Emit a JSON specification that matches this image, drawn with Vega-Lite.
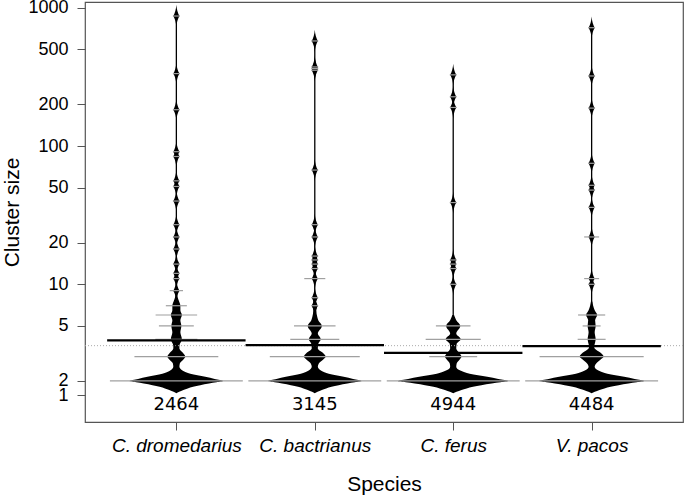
{
  "$schema": "https://vega.github.io/schema/vega-lite/v6.json",
  "width": 598,
  "height": 420,
  "autosize": {"type": "none"},
  "padding": {"left": 85, "top": 2, "right": 2, "bottom": 75},
  "background": "white",
  "config": {
    "view": {"stroke": "#555555", "strokeWidth": 1.2},
    "axis": {"grid": false, "domain": false, "tickColor": "#555555", "tickSize": 8, "labelColor": "#000000", "labelFont": "Liberation Sans", "labelFontSize": 18, "titleFont": "Liberation Sans", "titleFontSize": 21, "titleFontWeight": "normal", "titleColor": "#000000", "labelOverlap": false}
  },
  "datasets": {
    "bean": [
      {"species":"C. dromedarius","v":1.627,"w":0},{"species":"C. dromedarius","v":1.67,"w":0.020},{"species":"C. dromedarius","v":1.72,"w":0.051},{"species":"C. dromedarius","v":1.817,"w":0.121},{"species":"C. dromedarius","v":1.921,"w":0.236},{"species":"C. dromedarius","v":1.96,"w":0.290},{"species":"C. dromedarius","v":2.0,"w":0.337},{"species":"C. dromedarius","v":2.07,"w":0.277},{"species":"C. dromedarius","v":2.145,"w":0.209},{"species":"C. dromedarius","v":2.26,"w":0.101},{"species":"C. dromedarius","v":2.37,"w":0.047},{"species":"C. dromedarius","v":2.45,"w":0.029},{"species":"C. dromedarius","v":2.53,"w":0.022},{"species":"C. dromedarius","v":2.68,"w":0.025},{"species":"C. dromedarius","v":2.86,"w":0.051},{"species":"C. dromedarius","v":3.0,"w":0.065},{"species":"C. dromedarius","v":3.2,"w":0.047},{"species":"C. dromedarius","v":3.44,"w":0.022},{"species":"C. dromedarius","v":3.6,"w":0.022},{"species":"C. dromedarius","v":4.0,"w":0.040},{"species":"C. dromedarius","v":4.5,"w":0.029},{"species":"C. dromedarius","v":5.0,"w":0.036},{"species":"C. dromedarius","v":5.5,"w":0.029},{"species":"C. dromedarius","v":6.0,"w":0.040},{"species":"C. dromedarius","v":6.5,"w":0.029},{"species":"C. dromedarius","v":7.0,"w":0.029},{"species":"C. dromedarius","v":7.6,"w":0.018},{"species":"C. dromedarius","v":8.1,"w":0.009},{"species":"C. dromedarius","v":8.6,"w":0.004},
      {"species":"C. bactrianus","v":1.627,"w":0},{"species":"C. bactrianus","v":1.67,"w":0.020},{"species":"C. bactrianus","v":1.72,"w":0.051},{"species":"C. bactrianus","v":1.817,"w":0.121},{"species":"C. bactrianus","v":1.921,"w":0.236},{"species":"C. bactrianus","v":1.96,"w":0.290},{"species":"C. bactrianus","v":2.0,"w":0.337},{"species":"C. bactrianus","v":2.07,"w":0.277},{"species":"C. bactrianus","v":2.145,"w":0.209},{"species":"C. bactrianus","v":2.26,"w":0.101},{"species":"C. bactrianus","v":2.37,"w":0.047},{"species":"C. bactrianus","v":2.45,"w":0.029},{"species":"C. bactrianus","v":2.53,"w":0.022},{"species":"C. bactrianus","v":2.68,"w":0.029},{"species":"C. bactrianus","v":2.86,"w":0.061},{"species":"C. bactrianus","v":3.0,"w":0.079},{"species":"C. bactrianus","v":3.2,"w":0.058},{"species":"C. bactrianus","v":3.44,"w":0.022},{"species":"C. bactrianus","v":3.7,"w":0.025},{"species":"C. bactrianus","v":4.0,"w":0.043},{"species":"C. bactrianus","v":4.4,"w":0.022},{"species":"C. bactrianus","v":5.0,"w":0.051},{"species":"C. bactrianus","v":5.5,"w":0.025},{"species":"C. bactrianus","v":5.8,"w":0.018},{"species":"C. bactrianus","v":6.5,"w":0.011},{"species":"C. bactrianus","v":7.0,"w":0.018},{"species":"C. bactrianus","v":7.5,"w":0.009},{"species":"C. bactrianus","v":8.0,"w":0.014},{"species":"C. bactrianus","v":8.5,"w":0.005},
      {"species":"C. ferus","v":1.627,"w":0},{"species":"C. ferus","v":1.67,"w":0.024},{"species":"C. ferus","v":1.72,"w":0.060},{"species":"C. ferus","v":1.817,"w":0.143},{"species":"C. ferus","v":1.921,"w":0.278},{"species":"C. ferus","v":1.96,"w":0.342},{"species":"C. ferus","v":2.0,"w":0.397},{"species":"C. ferus","v":2.07,"w":0.326},{"species":"C. ferus","v":2.145,"w":0.246},{"species":"C. ferus","v":2.26,"w":0.119},{"species":"C. ferus","v":2.37,"w":0.056},{"species":"C. ferus","v":2.45,"w":0.029},{"species":"C. ferus","v":2.53,"w":0.022},{"species":"C. ferus","v":2.68,"w":0.025},{"species":"C. ferus","v":2.86,"w":0.047},{"species":"C. ferus","v":3.0,"w":0.060},{"species":"C. ferus","v":3.2,"w":0.043},{"species":"C. ferus","v":3.44,"w":0.022},{"species":"C. ferus","v":3.7,"w":0.025},{"species":"C. ferus","v":4.0,"w":0.054},{"species":"C. ferus","v":4.4,"w":0.022},{"species":"C. ferus","v":5.0,"w":0.051},{"species":"C. ferus","v":5.5,"w":0.022},{"species":"C. ferus","v":6.0,"w":0.006},
      {"species":"V. pacos","v":1.627,"w":0},{"species":"V. pacos","v":1.67,"w":0.023},{"species":"V. pacos","v":1.72,"w":0.057},{"species":"V. pacos","v":1.817,"w":0.137},{"species":"V. pacos","v":1.921,"w":0.266},{"species":"V. pacos","v":1.96,"w":0.326},{"species":"V. pacos","v":2.0,"w":0.379},{"species":"V. pacos","v":2.07,"w":0.311},{"species":"V. pacos","v":2.145,"w":0.235},{"species":"V. pacos","v":2.26,"w":0.114},{"species":"V. pacos","v":2.37,"w":0.053},{"species":"V. pacos","v":2.45,"w":0.029},{"species":"V. pacos","v":2.53,"w":0.022},{"species":"V. pacos","v":2.68,"w":0.033},{"species":"V. pacos","v":2.86,"w":0.065},{"species":"V. pacos","v":3.0,"w":0.087},{"species":"V. pacos","v":3.2,"w":0.065},{"species":"V. pacos","v":3.44,"w":0.022},{"species":"V. pacos","v":3.53,"w":0.018},{"species":"V. pacos","v":3.8,"w":0.025},{"species":"V. pacos","v":4.0,"w":0.029},{"species":"V. pacos","v":4.5,"w":0.022},{"species":"V. pacos","v":5.0,"w":0.029},{"species":"V. pacos","v":5.5,"w":0.025},{"species":"V. pacos","v":6.0,"w":0.040},{"species":"V. pacos","v":6.5,"w":0.022},{"species":"V. pacos","v":7.0,"w":0.011},{"species":"V. pacos","v":7.5,"w":0.005}
    ],
    "lines": [
      {"species":"C. dromedarius","v":2,"w":0.48},{"species":"C. dromedarius","v":3,"w":0.303},{"species":"C. dromedarius","v":4,"w":0.152},{"species":"C. dromedarius","v":5,"w":0.126},{"species":"C. dromedarius","v":6,"w":0.150},{"species":"C. dromedarius","v":7,"w":0.076},{"species":"C. dromedarius","v":9,"w":0.048},{"species":"C. dromedarius","v":11,"w":0.025},{"species":"C. dromedarius","v":12,"w":0.025},{"species":"C. dromedarius","v":14,"w":0.025},{"species":"C. dromedarius","v":18,"w":0.025},{"species":"C. dromedarius","v":22,"w":0.025},{"species":"C. dromedarius","v":27,"w":0.025},{"species":"C. dromedarius","v":40,"w":0.025},{"species":"C. dromedarius","v":51,"w":0.025},{"species":"C. dromedarius","v":56,"w":0.025},{"species":"C. dromedarius","v":84,"w":0.025},{"species":"C. dromedarius","v":91,"w":0.025},{"species":"C. dromedarius","v":183,"w":0.025},{"species":"C. dromedarius","v":334,"w":0.025},{"species":"C. dromedarius","v":871,"w":0.025},
      {"species":"C. bactrianus","v":2,"w":0.48},{"species":"C. bactrianus","v":3,"w":0.325},{"species":"C. bactrianus","v":4,"w":0.177},{"species":"C. bactrianus","v":5,"w":0.150},{"species":"C. bactrianus","v":7,"w":0.025},{"species":"C. bactrianus","v":8,"w":0.025},{"species":"C. bactrianus","v":11,"w":0.076},{"species":"C. bactrianus","v":13,"w":0.025},{"species":"C. bactrianus","v":14,"w":0.025},{"species":"C. bactrianus","v":15,"w":0.025},{"species":"C. bactrianus","v":16,"w":0.025},{"species":"C. bactrianus","v":22,"w":0.025},{"species":"C. bactrianus","v":27,"w":0.025},{"species":"C. bactrianus","v":67,"w":0.025},{"species":"C. bactrianus","v":353,"w":0.025},{"species":"C. bactrianus","v":363,"w":0.025},{"species":"C. bactrianus","v":373,"w":0.025},{"species":"C. bactrianus","v":575,"w":0.025},
      {"species":"C. ferus","v":2,"w":0.48},{"species":"C. ferus","v":3,"w":0.173},{"species":"C. ferus","v":4,"w":0.199},{"species":"C. ferus","v":5,"w":0.125},{"species":"C. ferus","v":10,"w":0.025},{"species":"C. ferus","v":13,"w":0.025},{"species":"C. ferus","v":14,"w":0.025},{"species":"C. ferus","v":15,"w":0.025},{"species":"C. ferus","v":39,"w":0.025},{"species":"C. ferus","v":190,"w":0.025},{"species":"C. ferus","v":227,"w":0.025},{"species":"C. ferus","v":327,"w":0.025},
      {"species":"V. pacos","v":2,"w":0.48},{"species":"V. pacos","v":3,"w":0.376},{"species":"V. pacos","v":4,"w":0.101},{"species":"V. pacos","v":5,"w":0.065},{"species":"V. pacos","v":6,"w":0.098},{"species":"V. pacos","v":10,"w":0.025},{"species":"V. pacos","v":11,"w":0.054},{"species":"V. pacos","v":22,"w":0.054},{"species":"V. pacos","v":36,"w":0.025},{"species":"V. pacos","v":48,"w":0.025},{"species":"V. pacos","v":52,"w":0.025},{"species":"V. pacos","v":75,"w":0.025},{"species":"V. pacos","v":188,"w":0.025},{"species":"V. pacos","v":321,"w":0.025},{"species":"V. pacos","v":717,"w":0.025}
    ],
    "means": [
      {"species":"C. dromedarius","mean":3.93,"n":2464,"max":871,"w":0.5},
      {"species":"C. bactrianus","mean":3.63,"n":3145,"max":575,"w":0.5},
      {"species":"C. ferus","mean":3.19,"n":4944,"max":327,"w":0.5},
      {"species":"V. pacos","mean":3.57,"n":4484,"max":717,"w":0.5}
    ]
  },
  "layer": [
    {
      "data": {"name": "bean"},
      "transform": [
        {"calculate": "indexof(['C. dromedarius','C. bactrianus','C. ferus','V. pacos'], datum.species) + 1", "as": "pos"},
        {"calculate": "datum.pos - datum.w", "as": "lo"},
        {"calculate": "datum.pos + datum.w", "as": "hi"}
      ],
      "mark": {"type": "area", "orient": "horizontal", "color": "#000000", "interpolate": "monotone"},
      "encoding": {
        "y": {"field": "v", "type": "quantitative", "scale": {"type": "log", "domain": [1.01, 1100], "nice": false},
          "axis": {"values": [1.58, 2, 5, 10, 20, 50, 100, 200, 500, 1000], "labelExpr": "datum.value < 1.7 ? '1' : format(datum.value, 'd')", "title": "Cluster size", "labelPadding": 9, "titlePadding": 5}},
        "x": {"field": "lo", "type": "quantitative", "scale": {"domain": [0.34, 4.66], "nice": false, "zero": false},
          "axis": {"values": [1, 2, 3, 4], "labelExpr": "datum.value == 1 ? 'C. dromedarius' : datum.value == 2 ? 'C. bactrianus' : datum.value == 3 ? 'C. ferus' : 'V. pacos'", "labelFontStyle": "italic", "labelFontSize": 19, "title": "Species", "labelPadding": 6, "titlePadding": 18}},
        "x2": {"field": "hi"},
        "detail": {"field": "species"}
      }
    },
    {
      "data": {"values": [{"overall": 3.6}]},
      "mark": {"type": "rule", "color": "#aaaaaa", "strokeWidth": 1, "strokeDash": [1, 2]},
      "encoding": {
        "y": {"field": "overall", "type": "quantitative", "scale": {"type": "log", "domain": [1.01, 1100], "nice": false}}
      }
    },
    {
      "data": {"name": "means"},
      "transform": [{"calculate": "indexof(['C. dromedarius','C. bactrianus','C. ferus','V. pacos'], datum.species) + 1", "as": "pos"}],
      "mark": {"type": "rule", "color": "#000000", "strokeWidth": 1.3},
      "encoding": {
        "x": {"field": "pos", "type": "quantitative", "scale": {"domain": [0.34, 4.66], "nice": false, "zero": false}},
        "y": {"field": "max", "type": "quantitative", "scale": {"type": "log", "domain": [1.01, 1100], "nice": false}},
        "y2": {"datum": 2}
      }
    },
    {
      "data": {"name": "lines"},
      "transform": [
        {"filter": "datum.v >= 7"},
        {"calculate": "indexof(['C. dromedarius','C. bactrianus','C. ferus','V. pacos'], datum.species) + 1", "as": "pos"}
      ],
      "mark": {"type": "point", "filled": true, "color": "#000000", "opacity": 1, "size": 500, "shape": "M0,-1Q0.05,-0.35 0.28,0Q0.05,0.35 0,1Q-0.05,0.35 -0.28,0Q-0.05,-0.35 0,-1Z"},
      "encoding": {
        "x": {"field": "pos", "type": "quantitative", "scale": {"domain": [0.34, 4.66], "nice": false, "zero": false}},
        "y": {"field": "v", "type": "quantitative", "scale": {"type": "log", "domain": [1.01, 1100], "nice": false}}
      }
    },
    {
      "data": {"name": "lines"},
      "transform": [
        {"calculate": "indexof(['C. dromedarius','C. bactrianus','C. ferus','V. pacos'], datum.species) + 1", "as": "pos"},
        {"calculate": "datum.pos - datum.w", "as": "lo"},
        {"calculate": "datum.pos + datum.w", "as": "hi"}
      ],
      "mark": {"type": "rule", "color": "#a0a0a0", "strokeWidth": 1.2},
      "encoding": {
        "x": {"field": "lo", "type": "quantitative", "scale": {"domain": [0.34, 4.66], "nice": false, "zero": false}},
        "x2": {"field": "hi"},
        "y": {"field": "v", "type": "quantitative", "scale": {"type": "log", "domain": [1.01, 1100], "nice": false}}
      }
    },
    {
      "data": {"name": "means"},
      "transform": [
        {"calculate": "indexof(['C. dromedarius','C. bactrianus','C. ferus','V. pacos'], datum.species) + 1", "as": "pos"},
        {"calculate": "datum.pos - datum.w", "as": "lo"},
        {"calculate": "datum.pos + datum.w", "as": "hi"}
      ],
      "mark": {"type": "rule", "color": "#000000", "strokeWidth": 2.2},
      "encoding": {
        "x": {"field": "lo", "type": "quantitative", "scale": {"domain": [0.34, 4.66], "nice": false, "zero": false}},
        "x2": {"field": "hi"},
        "y": {"field": "mean", "type": "quantitative", "scale": {"type": "log", "domain": [1.01, 1100], "nice": false}}
      }
    },
    {
      "data": {"name": "means"},
      "transform": [{"calculate": "indexof(['C. dromedarius','C. bactrianus','C. ferus','V. pacos'], datum.species) + 1", "as": "pos"}],
      "mark": {"type": "text", "font": "DejaVu Sans", "fontSize": 18, "color": "#000000", "baseline": "middle", "align": "center"},
      "encoding": {
        "x": {"field": "pos", "type": "quantitative", "scale": {"domain": [0.34, 4.66], "nice": false, "zero": false}},
        "y": {"datum": 1.34, "type": "quantitative", "scale": {"type": "log", "domain": [1.01, 1100], "nice": false}},
        "text": {"field": "n", "type": "quantitative", "format": "d"}
      }
    }
  ]
}
